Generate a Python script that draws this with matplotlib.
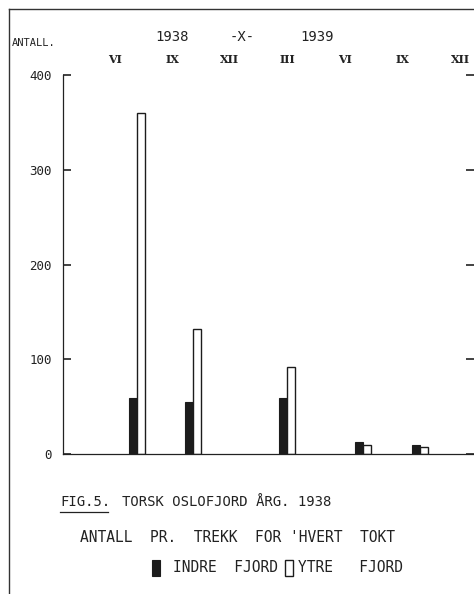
import matplotlib.pyplot as plt
from matplotlib.lines import Line2D
from matplotlib.patches import Rectangle

# months counted from June 1938 (0)
cruise_month = [1.15, 4.07, 8.97, 12.94, 15.9]
indre_fjord = [59, 55, 59, 13, 10]
ytre_fjord = [360, 132, 92, 10, 7]

tick_months = [0, 3, 6, 9, 12, 15, 18]
tick_labels = ['VI', 'IX', 'XII', 'III', 'VI', 'IX', 'XII']
y_ticks = [0, 100, 200, 300, 400]

MONO = 'DejaVu Sans Mono'
INK = '#222222'

W, H = 474, 594
fig = plt.figure(figsize=(W / 100, H / 100), dpi=100)
fig.patch.set_facecolor('white')

ax = fig.add_axes([63 / W, 1 - 454 / H, 1 - 63 / W, (454 - 75) / H])
ax.set_xlim(-2.71, 18.73)
ax.set_ylim(0, 400)

bw = 0.42
ax.bar([m - bw / 2 for m in cruise_month], indre_fjord, width=bw,
       color='#1c1c1c', edgecolor='#1c1c1c', linewidth=0.8)
ax.bar([m + bw / 2 for m in cruise_month], ytre_fjord, width=bw,
       color='white', edgecolor='#1c1c1c', linewidth=1.0)

for s in ['top', 'right']:
    ax.spines[s].set_visible(False)
for s in ['left', 'bottom']:
    ax.spines[s].set_linewidth(0.9)
    ax.spines[s].set_color(INK)

ax.set_yticks(y_ticks)
ax.set_yticklabels([str(v) for v in y_ticks], fontsize=9, family=MONO)
ax.tick_params(axis='y', direction='in', length=6, width=1.2, right=True,
               pad=8, colors=INK)

ax.xaxis.tick_top()
ax.set_xticks(tick_months)
ax.set_xticklabels(tick_labels, fontsize=8, family='DejaVu Serif',
                   fontweight='bold')
ax.tick_params(axis='x', length=0, pad=7.5, colors=INK)

# outer frame
fig.add_artist(Line2D([9 / W, 9 / W], [0, 1 - 9 / H], color='#333333', lw=1))
fig.add_artist(Line2D([9 / W, 1], [1 - 9 / H, 1 - 9 / H], color='#333333', lw=1))

fig.text(12 / W, 1 - 43 / H, 'ANTALL.', fontsize=7.5, family=MONO,
         va='center', color=INK)
for label, xc in [('1938', 172), ('-X-', 242), ('1939', 317)]:
    fig.text(xc / W, 1 - 37 / H, label, fontsize=10, family=MONO,
             ha='center', va='center', color=INK)

fig.text(60 / W, 1 - 502 / H, 'FIG.5.', fontsize=10, family=MONO,
         va='center', color=INK)
fig.add_artist(Line2D([60 / W, 108 / W], [1 - 512 / H, 1 - 512 / H],
                      color=INK, lw=0.9))
fig.text(122 / W, 1 - 502 / H, 'TORSK OSLOFJORD ÅRG. 1938', fontsize=10,
         family=MONO, va='center', color=INK)
fig.text(80 / W, 1 - 537 / H, "ANTALL  PR.  TREKK  FOR 'HVERT  TOKT",
         fontsize=10.5, family=MONO, va='center', color=INK)

fig.add_artist(Rectangle((152 / W, 1 - 576 / H), 8 / W, 16 / H,
                         facecolor='#1c1c1c', edgecolor='#1c1c1c', lw=0.8))
fig.text(173 / W, 1 - 568 / H, 'INDRE  FJORD', fontsize=10.5, family=MONO,
         va='center', color=INK)
fig.add_artist(Rectangle((285 / W, 1 - 576 / H), 8 / W, 16 / H,
                         facecolor='white', edgecolor='#1c1c1c', lw=1.0))
fig.text(298 / W, 1 - 568 / H, 'YTRE   FJORD', fontsize=10.5, family=MONO,
         va='center', color=INK)

fig.savefig('out.png', dpi=100)
